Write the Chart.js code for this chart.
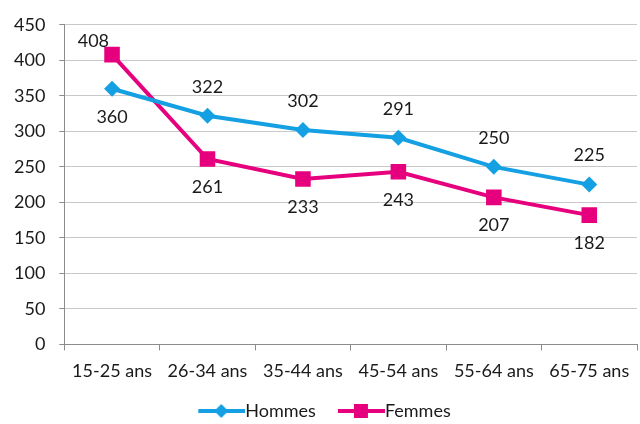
<!DOCTYPE html>
<html>
<head>
<meta charset="utf-8">
<script src="https://cdn.jsdelivr.net/npm/chart.js@4"></script>
<style>
  html, body { margin: 0; padding: 0; background: #fff; }
  #wrap { width: 640px; height: 424px; }
</style>
</head>
<body>
<div id="wrap"><canvas id="chart_canvas" width="640" height="424"></canvas></div>
<script>
// donnees
const categories = ['15-25 ans', '26-34 ans', '35-44 ans', '45-54 ans', '55-64 ans', '65-75 ans'];
const hommes = [360, 322, 302, 291, 250, 225];
const femmes = [408, 261, 233, 243, 207, 182];
const yTicks = [0, 50, 100, 150, 200, 250, 300, 350, 400, 450];

const BLUE = 'rgb(20, 160, 226)';
const PINK = 'rgb(230, 0, 126)';
const FONT = 'Lato, "Liberation Sans", sans-serif';
const FSIZE = 18;

// petite image pour la legende : trait + marqueur
function legendIcon(color, style) {
    const c = document.createElement('canvas');
    c.width = 68;
    c.height = 16;
    const ctx = c.getContext('2d');
    ctx.strokeStyle = color;
    ctx.fillStyle = color;
    ctx.lineWidth = 4;
    ctx.beginPath();
    ctx.moveTo(21, 8);
    ctx.lineTo(68, 8);
    ctx.stroke();
    ctx.beginPath();
    const cx = 44;
    if (style == 'diamond') {
        ctx.moveTo(cx, 1); ctx.lineTo(cx + 7, 8); ctx.lineTo(cx, 15); ctx.lineTo(cx - 7, 8);
    } else {
        ctx.rect(cx - 7, 1, 14, 14);
    }
    ctx.closePath();
    ctx.fill();
    return c;
}

// etiquettes de valeurs
const valueLabels = {
    id: 'valueLabels',
    afterDatasetsDraw(chart, args, opts) {
        const ctx = chart.ctx;
        ctx.save();
        ctx.font = FSIZE + 'px ' + FONT;
        ctx.fillStyle = '#1a1a1a';
        ctx.textBaseline = 'middle';
        chart.data.datasets.forEach((ds, i) => {
            const meta = chart.getDatasetMeta(i);
            const place = opts.place[i];
            meta.data.forEach((pt, j) => {
                const p = place[j];
                let x = pt.x, y = pt.y;
                ctx.textAlign = 'center';
                if (p == 'above') y -= 29;
                else if (p == 'below') y += 28;
                else if (p == 'leftabove') { ctx.textAlign = 'right'; x -= 3; y -= 13; }
                ctx.fillText(String(ds.data[j]), x, y);
            });
        });
        ctx.restore();
    }
};

const conf = {
    type: 'line',
    data: {
        labels: categories,
        datasets: [{
            label: 'Hommes',
            data: hommes,
            borderColor: BLUE,
            backgroundColor: BLUE,
            borderWidth: 4,
            pointStyle: 'rectRot',
            pointRadius: 8,
            pointHoverRadius: 8,
            pointBorderWidth: 0,
            tension: 0,
            legendIcon: legendIcon(BLUE, 'diamond')
        }, {
            label: 'Femmes',
            data: femmes,
            borderColor: PINK,
            backgroundColor: PINK,
            borderWidth: 4,
            pointStyle: 'rect',
            pointRadius: 11,
            pointHoverRadius: 11,
            pointBorderWidth: 0,
            tension: 0,
            legendIcon: legendIcon(PINK, 'square')
        }]
    },
    options: {
        responsive: false,
        animation: false,
        layout: {
            autoPadding: false,
            padding: { left: 0, right: 3, top: 19, bottom: -6 }
        },
        scales: {
            x: {
                offset: true,
                afterFit(axis) {
                    axis.paddingLeft = 0;
                    axis.paddingRight = 0;
                },
                grid: {
                    offset: true,
                    drawOnChartArea: false,
                    drawTicks: true,
                    tickLength: 6,
                    color: '#8c8c8c'
                },
                border: { color: '#8c8c8c', width: 1 },
                ticks: {
                    color: '#1a1a1a',
                    font: { family: FONT, size: FSIZE },
                    padding: 10,
                    maxRotation: 0,
                    autoSkip: false
                }
            },
            y: {
                min: 0,
                max: 450,
                afterBuildTicks(axis) {
                    axis.ticks = yTicks.map(v => ({ value: v }));
                },
                grid: {
                    color: '#c8c8c8',
                    tickLength: 5,
                    tickColor: '#8c8c8c'
                },
                border: { color: '#8c8c8c', width: 1 },
                ticks: {
                    color: '#1a1a1a',
                    font: { family: FONT, size: FSIZE },
                    padding: 14
                }
            }
        },
        plugins: {
            legend: {
                position: 'bottom',
                labels: {
                    color: '#1a1a1a',
                    font: { family: FONT, size: FSIZE },
                    usePointStyle: true,
                    pointStyleWidth: 50,
                    padding: 10,
                    generateLabels(chart) {
                        return chart.data.datasets.map((ds, i) => ({
                            text: ds.label,
                            pointStyle: ds.legendIcon,
                            fillStyle: ds.borderColor,
                            strokeStyle: ds.borderColor,
                            lineWidth: 0,
                            fontColor: '#1a1a1a',
                            datasetIndex: i,
                            hidden: false
                        }));
                    }
                }
            },
            tooltip: { enabled: false },
            valueLabels: {
                place: [
                    ['below', 'above', 'above', 'above', 'above', 'above'],
                    ['leftabove', 'below', 'below', 'below', 'below', 'below']
                ]
            }
        }
    },
    plugins: [valueLabels]
};

const myChart = new Chart(document.getElementById('chart_canvas'), conf);
</script>
</body>
</html>
